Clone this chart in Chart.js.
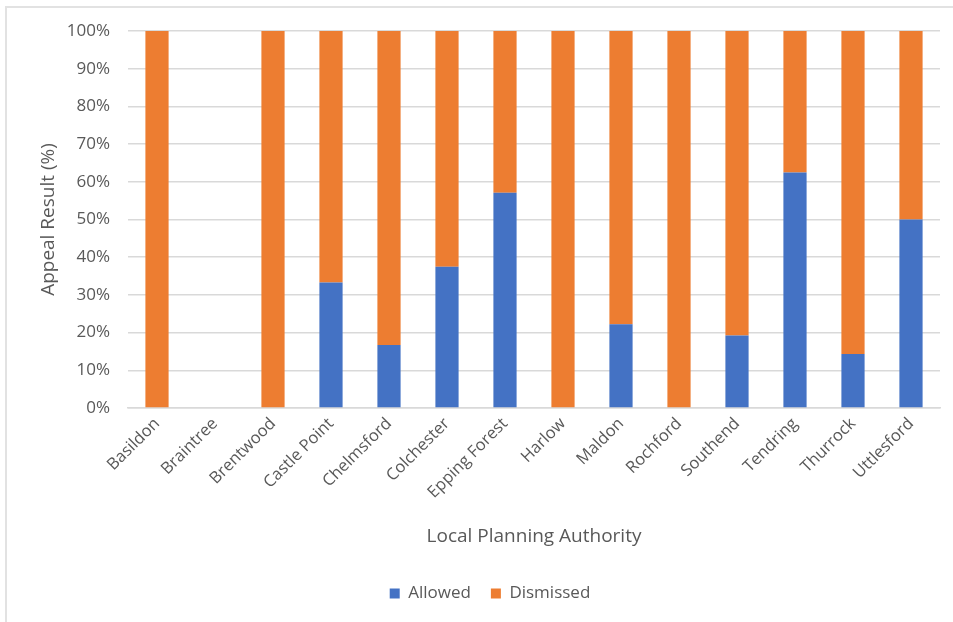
<!DOCTYPE html>
<html>
<head>
<meta charset="utf-8">
<title>Appeal Results by Local Planning Authority</title>
<script src="https://cdn.jsdelivr.net/npm/chart.js@4.4.1/dist/chart.umd.min.js"></script>
<style>
  html, body { margin: 0; padding: 0; background: #fff; }
  #frame {
    position: absolute; left: 5px; top: 6px;
    width: 2000px; height: 2000px;
    border-left: 2px solid #e2e2e2; border-top: 2px solid #e2e2e2;
  }
  #wrap { position: absolute; left: 0; top: 0; width: 953px; height: 622px; }
</style>
</head>
<body>
<div id="frame"></div>
<div id="wrap"><canvas id="appealChart" width="953" height="622"></canvas></div>
<script>
// ---- Data ----
const authorities = [
  "Basildon", "Braintree", "Brentwood", "Castle Point", "Chelmsford",
  "Colchester", "Epping Forest", "Harlow", "Maldon", "Rochford",
  "Southend", "Tendring", "Thurrock", "Uttlesford"
];
const allowedPct   = [0, 0, 0, 33.3, 16.7, 37.5, 57.1, 0, 22.2, 0, 19.2, 62.5, 14.3, 50];
const dismissedPct = [100, 0, 100, 66.7, 83.3, 62.5, 42.9, 100, 77.8, 100, 80.8, 37.5, 85.7, 50];
const yTicks = [0, 10, 20, 30, 40, 50, 60, 70, 80, 90, 100];

const FONT = "'Open Sans', 'DejaVu Sans', sans-serif";
const GREY = "#595959";

// nudge the legend row a little to the right of the canvas centre
const legendShift = {
  id: "legendShift",
  afterLayout(chart) {
    const lg = chart.legend;
    if (!lg) return;
    lg.left += 20;
    lg.right += 20;
    lg.adjustHitBoxes();
  }
};

const ctx = document.getElementById("appealChart").getContext("2d");
new Chart(ctx, {
  type: "bar",
  data: {
    labels: authorities,
    datasets: [
      {
        label: "Allowed",
        data: allowedPct,
        backgroundColor: "#4472C4",
        barPercentage: 0.4,
        categoryPercentage: 1
      },
      {
        label: "Dismissed",
        data: dismissedPct,
        backgroundColor: "#ED7D31",
        barPercentage: 0.4,
        categoryPercentage: 1
      }
    ]
  },
  plugins: [legendShift],
  options: {
    responsive: false,
    animation: false,
    layout: { padding: { top: 31, right: 13, bottom: 10, left: 0 } },
    plugins: {
      tooltip: { enabled: false },
      legend: {
        position: "bottom",
        labels: {
          color: GREY,
          font: { family: FONT, size: 17 },
          boxWidth: 10,
          boxHeight: 10,
          padding: 20
        }
      }
    },
    scales: {
      x: {
        stacked: true,
        grid: { display: false, drawTicks: false },
        border: { color: "#d9d9d9", width: 1.5 },
        ticks: {
          color: GREY,
          font: { family: FONT, size: 16.5 },
          minRotation: 45,
          maxRotation: 45,
          padding: 6
        },
        title: {
          display: true,
          text: "Local Planning Authority",
          color: GREY,
          font: { family: FONT, size: 19 },
          padding: { top: 4, bottom: 17 }
        },
        afterFit: s => { s.height = 157; }
      },
      y: {
        stacked: true,
        min: 0,
        max: 100,
        afterBuildTicks: s => { s.ticks = yTicks.map(v => ({ value: v })); },
        grid: { color: "#d9d9d9", lineWidth: 1.5, drawTicks: false },
        border: { display: false },
        ticks: {
          color: GREY,
          font: { family: FONT, size: 17 },
          padding: 18,
          callback: v => v + "%"
        },
        title: {
          display: true,
          text: "Appeal Result (%)",
          color: GREY,
          font: { family: FONT, size: 19 },
          padding: { top: 37, bottom: 0 }
        },
        afterFit: s => { s.width = 128; }
      }
    }
  }
});
</script>
</body>
</html>
